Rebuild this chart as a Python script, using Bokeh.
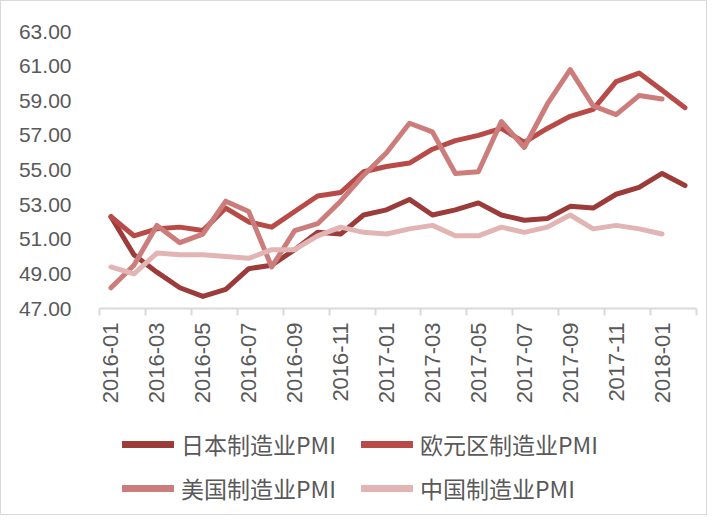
import math
from bokeh.plotting import figure
from bokeh.layouts import column
from bokeh.models import FixedTicker, Legend, LegendItem, Range1d
from bokeh.embed import file_html
from bokeh.resources import INLINE

months = ["2016-01", "2016-02", "2016-03", "2016-04", "2016-05", "2016-06",
          "2016-07", "2016-08", "2016-09", "2016-10", "2016-11", "2016-12",
          "2017-01", "2017-02", "2017-03", "2017-04", "2017-05", "2017-06",
          "2017-07", "2017-08", "2017-09", "2017-10", "2017-11", "2017-12",
          "2018-01", "2018-02"]

japan = [52.3, 50.1, 49.1, 48.2, 47.7, 48.1, 49.3, 49.5, 50.4, 51.4, 51.3, 52.4,
         52.7, 53.3, 52.4, 52.7, 53.1, 52.4, 52.1, 52.2, 52.9, 52.8, 53.6, 54.0,
         54.8, 54.1]
euro = [52.3, 51.2, 51.6, 51.7, 51.5, 52.8, 52.0, 51.7, 52.6, 53.5, 53.7, 54.9,
        55.2, 55.4, 56.2, 56.7, 57.0, 57.4, 56.6, 57.4, 58.1, 58.5, 60.1, 60.6,
        59.6, 58.6]
usa = [48.2, 49.5, 51.8, 50.8, 51.3, 53.2, 52.6, 49.4, 51.5, 51.9, 53.2, 54.7,
       56.0, 57.7, 57.2, 54.8, 54.9, 57.8, 56.3, 58.8, 60.8, 58.7, 58.2, 59.3,
       59.1]
china = [49.4, 49.0, 50.2, 50.1, 50.1, 50.0, 49.9, 50.4, 50.4, 51.2, 51.7, 51.4,
         51.3, 51.6, 51.8, 51.2, 51.2, 51.7, 51.4, 51.7, 52.4, 51.6, 51.8, 51.6,
         51.3]

series_names = ["日本制造业PMI", "欧元区制造业PMI", "美国制造业PMI", "中国制造业PMI"]
series_colors = ["#9b3c3b", "#b84a47", "#cc7d7b", "#e2b5b4"]
y_ticks = [47, 49, 51, 53, 55, 57, 59, 61, 63]
x_label_idx = list(range(0, len(months), 2))
all_series = [japan, euro, usa, china]

n = len(months)
p = figure(width=705, height=405, output_backend="svg", toolbar_location=None,
           x_range=Range1d(-0.5, n - 0.5), y_range=Range1d(y_ticks[0], y_ticks[-1]),
           min_border_left=98, min_border_right=10, min_border_top=30,
           min_border_bottom=97)
p.outline_line_color = None
p.grid.visible = False
p.background_fill_color = "white"
p.border_fill_color = "white"

for col, vals in zip(series_colors, all_series):
    p.line(list(range(len(vals))), vals, line_color=col, line_width=5,
           line_join="round", line_cap="round")

# x axis
xa = p.xaxis[0]
xa.ticker = FixedTicker(ticks=x_label_idx,
                        minor_ticks=[i - 0.5 for i in range(0, n + 1, 2)])
xa.major_label_overrides = {i: months[i] for i in x_label_idx}
xa.major_label_orientation = math.pi / 2
xa.major_tick_line_color = None
xa.major_tick_out = 0
xa.major_tick_in = 0
xa.minor_tick_line_color = "#d9d9d9"
xa.minor_tick_line_width = 2
xa.minor_tick_out = 7
xa.minor_tick_in = 0
xa.axis_line_color = "#d9d9d9"
xa.axis_line_width = 2
xa.major_label_text_font = "Liberation Sans"
xa.major_label_text_font_size = "22px"
xa.major_label_text_color = "#595959"
xa.major_label_standoff = 7

# y axis
ya = p.yaxis[0]
ya.ticker = FixedTicker(ticks=y_ticks)
ya.major_label_overrides = {v: f"{v:.2f}" for v in y_ticks}
ya.axis_line_color = None
ya.major_tick_line_color = None
ya.minor_tick_line_color = None
ya.major_label_standoff = 22
ya.major_label_text_font = "Liberation Sans"
ya.major_label_text_font_size = "21px"
ya.major_label_text_color = "#595959"

# legend strip: same series, ranges chosen so the lines themselves are off-view
q = figure(width=705, height=108, output_backend="svg", toolbar_location=None,
           min_border=0, x_range=Range1d(0, 1), y_range=Range1d(0, 1))
q.axis.visible = False
q.grid.visible = False
q.outline_line_color = None
q.background_fill_color = "white"
q.border_fill_color = "white"
items = []
for name, col, vals in zip(series_names, series_colors, all_series):
    r = q.line(list(range(len(vals))), vals, line_color=col, line_width=7,
               line_cap="round")
    items.append(LegendItem(label=name, renderers=[r]))

legend = Legend(items=items, orientation="horizontal", nrows=2,
                location=(23, 9), padding=0, margin=0, spacing=10,
                glyph_width=52, glyph_height=30, label_standoff=7,
                label_width=170, border_line_color=None,
                background_fill_alpha=0,
                label_text_font="Noto Sans CJK SC", label_text_font_size="23px",
                label_text_color="#595959")
q.add_layout(legend, "center")

layout = column(p, q, spacing=0, styles={"border": "1px solid #d9d9d9"})

open("out.html", "w").write(file_html(layout, INLINE))
